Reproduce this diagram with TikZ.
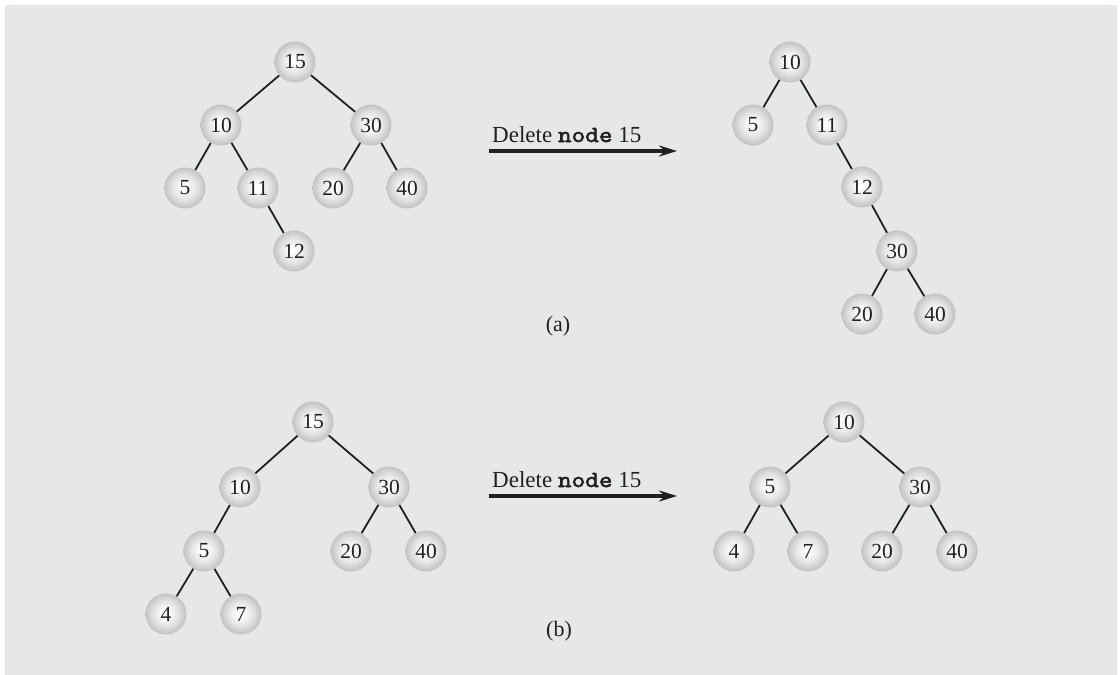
\documentclass[tikz,border=0pt]{standalone}
\usepackage{fontspec}
\setmainfont{Liberation Serif}
\newfontfamily\codefont{lmmono10-regular.otf}[FakeBold=2.2,FakeStretch=1.13]
\usetikzlibrary{arrows.meta}
\definecolor{panel}{HTML}{E6E7E9}
\definecolor{ink}{HTML}{231F20}
\pgfdeclareradialshading{nodeshade}{\pgfpoint{-1bp}{1bp}}{%
  color(0bp)=(white);
  color(4bp)=(white);
  color(16bp)=(black!12);
  color(25bp)=(black!24);
  color(50bp)=(black!24)}
\tikzset{
  tn/.style={circle, minimum size=41pt, inner sep=0pt, shading=nodeshade,
    text=ink, font=\fontsize{21.5}{24}\selectfont},
  edge/.style={draw=ink, line width=1.8pt},
  bigarrow/.style={draw=ink, line width=3.6pt, -{Stealth[length=18pt,width=11pt]}},
  arrlabel/.style={anchor=base west, inner sep=0pt, text=ink, font=\fontsize{23}{28}\selectfont},
  caption/.style={text=ink, inner sep=0pt, font=\fontsize{22}{26}\selectfont}
}
\begin{document}
\begin{tikzpicture}[x=1pt,y=-1pt]
\useasboundingbox (0,0) rectangle (1120,675);
\fill[white] (0,0) rectangle (1120,675);
\fill[panel] (5,5) rectangle (1117,675);

% (a) left tree
\node[tn] (a15) at (295,62) {15};
\node[tn] (a10) at (221,125) {10};
\node[tn] (a30) at (371,125) {30};
\node[tn] (a5) at (185,188) {5};
\node[tn] (a11) at (258,188) {11};
\node[tn] (a20) at (333,188) {20};
\node[tn] (a40) at (407,188) {40};
\node[tn] (a12) at (294,251) {12};
\path[edge] (a15) -- (a10);
\path[edge] (a15) -- (a30);
\path[edge] (a10) -- (a5);
\path[edge] (a10) -- (a11);
\path[edge] (a30) -- (a20);
\path[edge] (a30) -- (a40);
\path[edge] (a11) -- (a12);

% (a) right tree
\node[tn] (c10) at (790,62) {10};
\node[tn] (c5) at (753,125) {5};
\node[tn] (c11) at (827,125) {11};
\node[tn] (c12) at (862,187) {12};
\node[tn] (c30) at (897,251) {30};
\node[tn] (c20) at (862,314) {20};
\node[tn] (c40) at (935,314) {40};
\path[edge] (c10) -- (c5);
\path[edge] (c10) -- (c11);
\path[edge] (c11) -- (c12);
\path[edge] (c12) -- (c30);
\path[edge] (c30) -- (c20);
\path[edge] (c30) -- (c40);

% arrow (a)
\coordinate (as) at (489,151);
\coordinate (ae) at (677,151);
\path[bigarrow] (as) -- (ae);
\node[arrlabel] (al) at (492,142) {Delete {\codefont node} 15};
\node[caption] (capa) at (558,326) {(a)};

% (b) left tree
\node[tn] (b15) at (313,422) {15};
\node[tn] (b10) at (240,487) {10};
\node[tn] (b30) at (389,487) {30};
\node[tn] (b5) at (204,551) {5};
\node[tn] (b20) at (351,551) {20};
\node[tn] (b40) at (426,551) {40};
\node[tn] (b4) at (166,614) {4};
\node[tn] (b7) at (241,614) {7};
\path[edge] (b15) -- (b10);
\path[edge] (b15) -- (b30);
\path[edge] (b10) -- (b5);
\path[edge] (b30) -- (b20);
\path[edge] (b30) -- (b40);
\path[edge] (b5) -- (b4);
\path[edge] (b5) -- (b7);

% (b) right tree
\node[tn] (d10) at (844,422) {10};
\node[tn] (d5) at (770,487) {5};
\node[tn] (d30) at (920,487) {30};
\node[tn] (d4) at (734,551) {4};
\node[tn] (d7) at (808,551) {7};
\node[tn] (d20) at (882,551) {20};
\node[tn] (d40) at (957,551) {40};
\path[edge] (d10) -- (d5);
\path[edge] (d10) -- (d30);
\path[edge] (d5) -- (d4);
\path[edge] (d5) -- (d7);
\path[edge] (d30) -- (d20);
\path[edge] (d30) -- (d40);

% arrow (b)
\coordinate (bs) at (489,496);
\coordinate (be) at (677,496);
\path[bigarrow] (bs) -- (be);
\node[arrlabel] (bl) at (492,487) {Delete {\codefont node} 15};
\node[caption] (capb) at (559,631) {(b)};
\end{tikzpicture}
\end{document}
